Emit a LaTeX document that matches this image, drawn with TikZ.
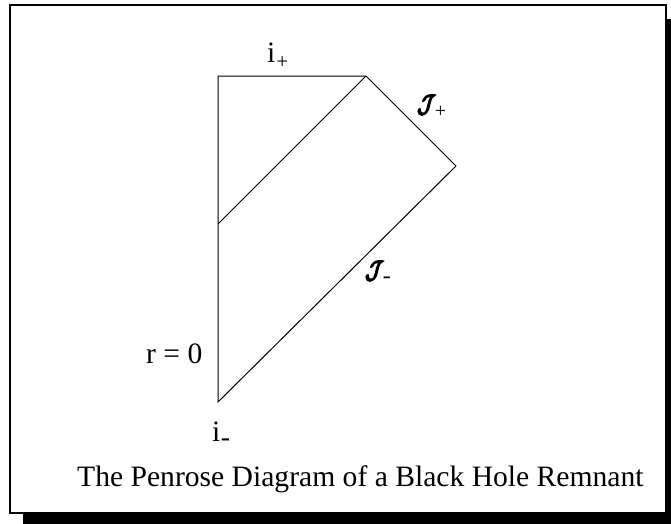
\documentclass[tikz,border=0pt]{standalone}
\usepackage{fontspec}
\setmainfont{Liberation Serif}
\usepackage{graphicx}
\newcommand{\fakebold}[2]{\special{pdf:literal 2 Tr #1 w}#2\special{pdf:literal 0 Tr}}
\newcommand{\subtxt}[3]{\raisebox{#2}{\fontsize{#1}{#1}\selectfont #3}}
\newcommand{\scrij}{\fakebold{1.7}{\scalebox{0.85}[1.0]{$\mathcal{J}$}}}
\tikzset{
  lbl/.style={inner sep=0pt, anchor=base west, font=\fontsize{29.6}{34}\selectfont},
  scri/.style={inner sep=0pt, anchor=base west, font=\fontsize{30}{34}\selectfont},
  edge/.style={line width=1pt, black},
  frame/.style={line width=1.2pt, draw=black, fill=white}
}
\begin{document}
\begin{tikzpicture}[x=1pt,y=-1pt]
\clip (0,0) rectangle (671,523);
\fill[white] (0,0) rectangle (671,523);
% shadow and frame
\fill[black] (23,19) rectangle (690,540);
\draw[frame] (10,5) rectangle (666,513);
% vertices
\coordinate (A) at (218,76);
\coordinate (B) at (366,76);
\coordinate (C) at (456,166);
\coordinate (D) at (218,402);
\coordinate (E) at (218,224);
\draw[edge] (A) -- (B) -- (C) -- (D) -- cycle;
\draw[edge] (B) -- (E);
% labels
\node[lbl] (iplus) at (267,62) {i\kern1pt\subtxt{21}{-6pt}{+}};
\node[scri] (scriplus) at (417,112) {\scrij\kern-0.5pt\subtxt{20}{-5pt}{+}};
\node[scri] (scriminus) at (365,278) {\scrij\kern-0.5pt\subtxt{24}{-5pt}{-}};
\node[lbl] (r0) at (146,363) {r = 0};
\node[lbl] (iminus) at (212,441) {i\kern0.5pt\subtxt{28}{-5pt}{-}};
\node[lbl] (caption) at (77,486) {The Penrose Diagram of a Black Hole Remnant};
\end{tikzpicture}
\end{document}
